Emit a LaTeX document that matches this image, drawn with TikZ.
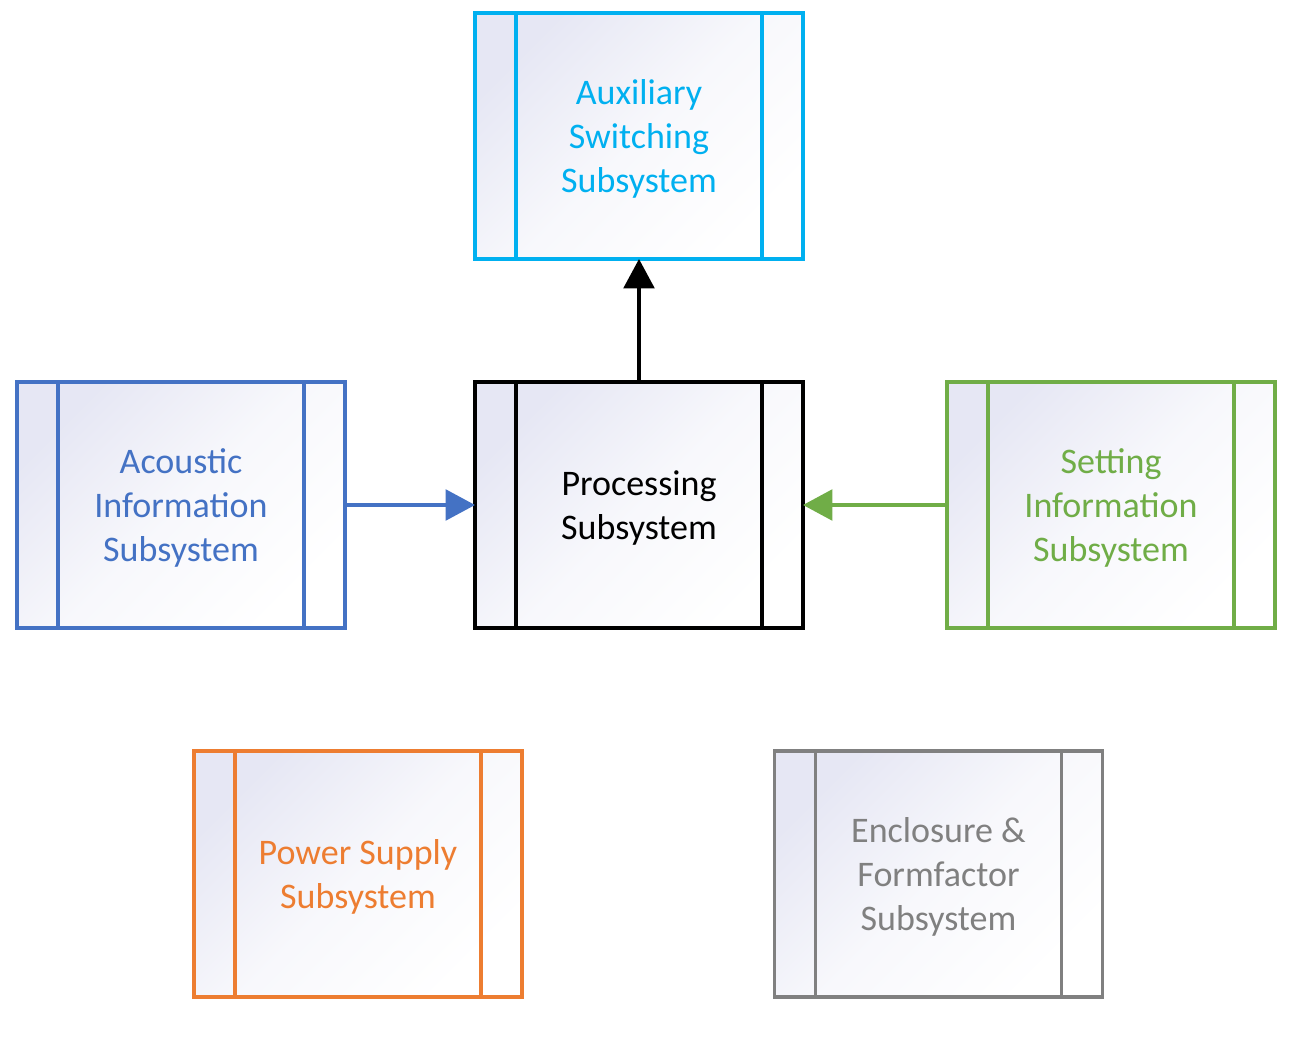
\documentclass[tikz,border=0pt]{standalone}
\usepackage{fontspec}
\setmainfont{Carlito}
\usetikzlibrary{arrows.meta}
\definecolor{cAux}{HTML}{00B0F0}
\definecolor{cBlue}{HTML}{4472C4}
\definecolor{cGreen}{HTML}{70AD47}
\definecolor{cOrange}{HTML}{ED7D31}
\definecolor{cGray}{HTML}{808080}
\definecolor{cLav}{RGB}{230,231,244}
\tikzset{
  px/.style={x=0.75pt,y=-0.75pt},
  subsys/.style={draw=#1, text=#1, line width=2.5pt, rectangle, inner sep=0pt, outer sep=0pt,
    minimum width=246pt, minimum height=184.5pt, align=center,
    font=\fontsize{27}{33}\selectfont, text depth=0pt,
    top color=cLav, bottom color=white, middle color=cLav!30!white, shading angle=45,
    path picture={
      \draw[#1, line width=2.5pt] ([xshift=30.75pt]path picture bounding box.north west) -- ([xshift=30.75pt]path picture bounding box.south west);
      \draw[#1, line width=2.5pt] ([xshift=-30.75pt]path picture bounding box.north east) -- ([xshift=-30.75pt]path picture bounding box.south east);
    }},
  conn/.style={line width=2.5pt, -{Triangle[length=22pt,width=23pt]}}
}
\begin{document}
\begin{tikzpicture}[px]
\useasboundingbox (0,0) rectangle (1304,1059);
\node[subsys=cAux] (aux) at (639,136) {Auxiliary\\Switching\\Subsystem};
\node[subsys=black] (proc) at (639,505) {Processing\\Subsystem};
\node[subsys=cBlue] (acou) at (181,505) {Acoustic\\Information\\Subsystem};
\node[subsys=cGreen] (set) at (1111,505) {Setting\\Information\\Subsystem};
\node[subsys=cOrange] (pow) at (358,874) {Power Supply\\Subsystem};
\node[subsys=cGray] (enc) at (938.5,874) {Enclosure \&\\Formfactor\\Subsystem};
\draw[conn, black] (proc.north) -- (aux.south);
\draw[conn, cBlue] (acou.east) -- (proc.west);
\draw[conn, cGreen] (set.west) -- (proc.east);
\end{tikzpicture}
\end{document}
